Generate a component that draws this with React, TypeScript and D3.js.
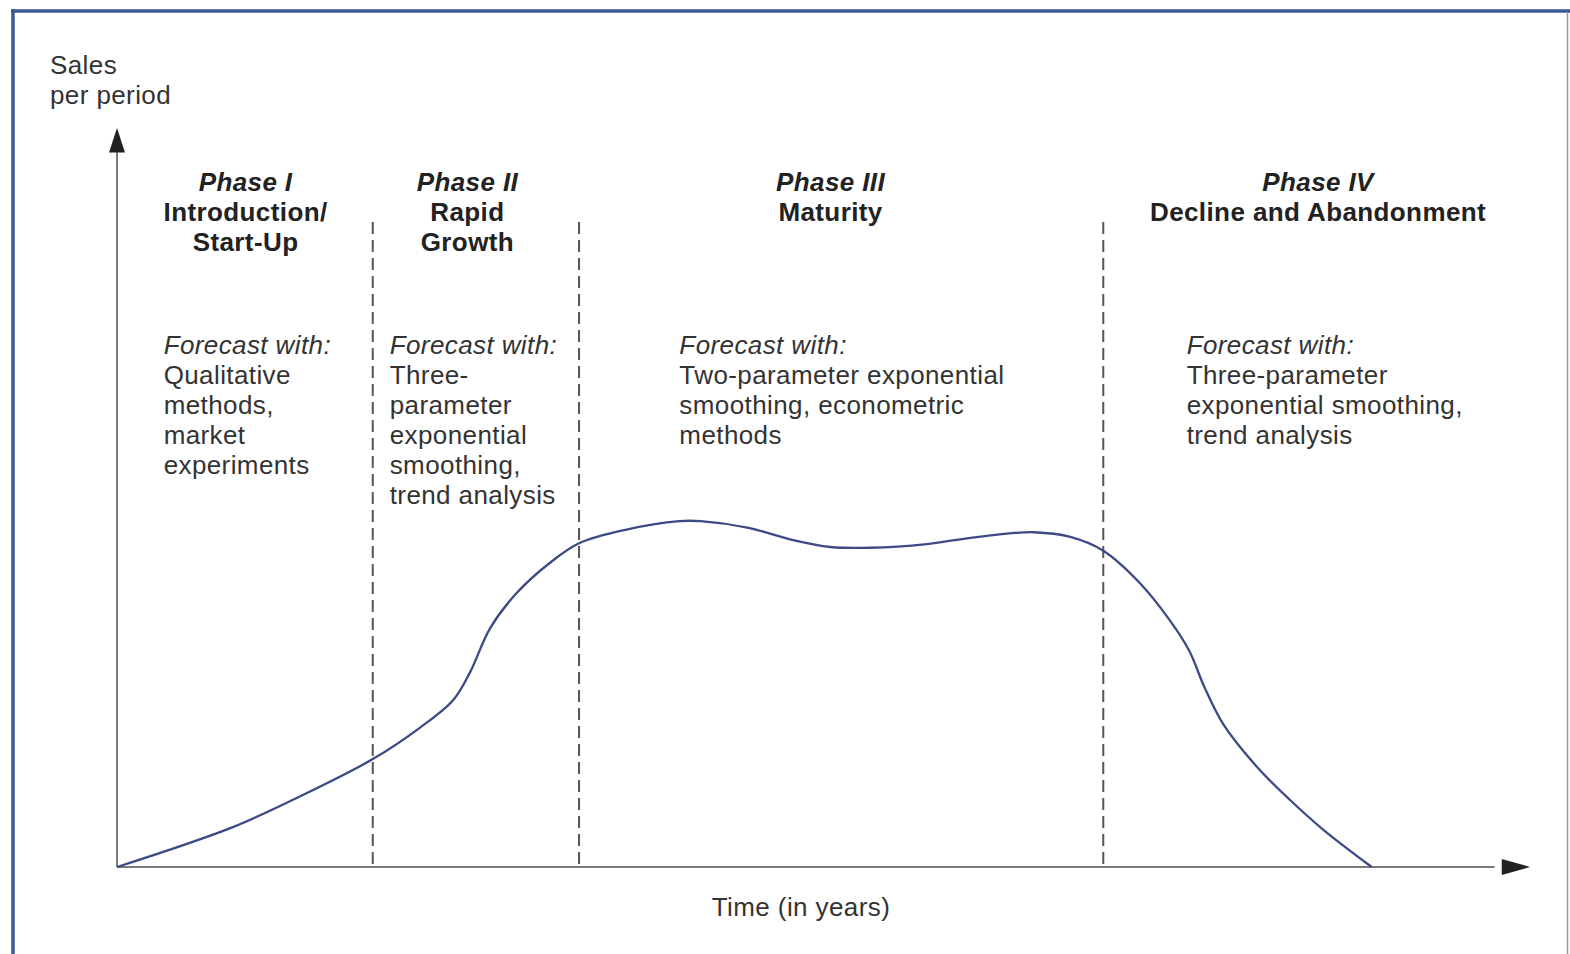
import { scaleLinear, line, curveCatmullRom } from 'd3';

const width = 1570;
const height = 954;

// time (0-100) / sales per period (0-100)
const timeValues = [0, 8.2, 13.0, 18.1, 21.4, 23.8, 25.0, 26.4, 28.3, 30.6, 32.7, 35.9, 39.8, 41.3, 44.7, 47.7, 50.5, 53.3, 57.3, 59.9, 63.6, 64.9, 67.4, 69.8, 72.4, 74.5, 75.9, 76.9, 78.3, 80.7, 83.0, 85.4, 88.8];
const salesValues = [0, 5.4, 9.6, 14.6, 18.8, 22.6, 26.4, 32.3, 37.1, 41.1, 43.8, 45.6, 46.8, 46.8, 45.9, 44.3, 43.3, 43.2, 43.7, 44.4, 45.2, 45.3, 44.7, 42.8, 38.4, 33.4, 29.2, 24.6, 19.3, 13.5, 9.1, 5.0, 0];

const phaseBoundaries = [18.1, 32.7, 69.8];
const phaseCenters = [9.1, 24.8, 50.5, 85.0];
const phaseNames = ['Phase I', 'Phase II', 'Phase III', 'Phase IV'];
const phaseTitles = [
  ['Introduction/', 'Start-Up'],
  ['Rapid', 'Growth'],
  ['Maturity'],
  ['Decline and Abandonment'],
];
const forecastStarts = [3.3, 19.3, 39.8, 75.7];
const forecastMethods = [
  ['Qualitative', 'methods,', 'market', 'experiments'],
  ['Three-', 'parameter', 'exponential', 'smoothing,', 'trend analysis'],
  ['Two-parameter exponential', 'smoothing, econometric', 'methods'],
  ['Three-parameter', 'exponential smoothing,', 'trend analysis'],
];

const x = scaleLinear().domain([0, 100]).range([117, 1530]);
const y = scaleLinear().domain([0, 100]).range([867, 128]);

const salesLine = line<number>()
  .x((d, i) => x(timeValues[i]))
  .y(d => y(d))
  .curve(curveCatmullRom.alpha(0.5));

const font = '"Liberation Sans", Arial, Helvetica, sans-serif';

const App = () => {
  const x0 = x(0);
  const y0 = y(0);
  return (
    <svg width={width} height={height} style={{ position: 'absolute', left: 0, top: 0, display: 'block', background: '#fff' }} fontFamily={font} letterSpacing={0.4}>
      {/* frame */}
      <line x1={11} y1={11} x2={width} y2={11} stroke="#3d5a92" strokeWidth={3.5} />
      <line x1={13} y1={9} x2={13} y2={height} stroke="#3d5a92" strokeWidth={3.5} />
      <line x1={1567.5} y1={12} x2={1567.5} y2={height} stroke="#8a9cbc" strokeWidth={1.5} />

      {/* axes */}
      <line x1={x0} y1={y0} x2={x0} y2={y(97)} stroke="#7a7a7a" strokeWidth={2} />
      <line x1={x0} y1={y0} x2={x(97.5)} y2={y0} stroke="#7a7a7a" strokeWidth={2} />
      <path d={`M${x0},${y(100)} L${x0 - 8},${y(96.7)} L${x0 + 8},${y(96.7)} Z`} fill="#222" />
      <path d={`M${x(100)},${y0} L${x(98)},${y0 - 8} L${x(98)},${y0 + 8} Z`} fill="#222" />

      {/* phase separators */}
      {phaseBoundaries.map((b, i) => (
        <line key={i} x1={x(b)} x2={x(b)} y1={222} y2={y0} stroke="#555" strokeWidth={2} strokeDasharray="12,6" />
      ))}

      {/* curve */}
      <path d={salesLine(salesValues) || ''} fill="none" stroke="#3c4a85" strokeWidth={2.3} />

      {/* labels */}
      <text x={50} y={74} fontSize={26} fill="#333">Sales</text>
      <text x={50} y={104} fontSize={26} fill="#333">per period</text>
      <text x={801} y={916} fontSize={26} fill="#333" textAnchor="middle">Time (in years)</text>

      {phaseNames.map((name, i) => (
        <g key={name}>
          <text x={x(phaseCenters[i])} y={191} fontSize={26} fill="#222" textAnchor="middle" fontWeight="bold" fontStyle="italic">{name}</text>
          {phaseTitles[i].map((t, j) => (
            <text key={j} x={x(phaseCenters[i])} y={221 + j * 30} fontSize={26} fill="#222" textAnchor="middle" fontWeight="bold">{t}</text>
          ))}
          <text x={x(forecastStarts[i])} y={354} fontSize={26} fill="#333" fontStyle="italic">Forecast with:</text>
          {forecastMethods[i].map((t, j) => (
            <text key={j} x={x(forecastStarts[i])} y={384 + j * 30} fontSize={26} fill="#333">{t}</text>
          ))}
        </g>
      ))}
    </svg>
  );
};

export default App;
